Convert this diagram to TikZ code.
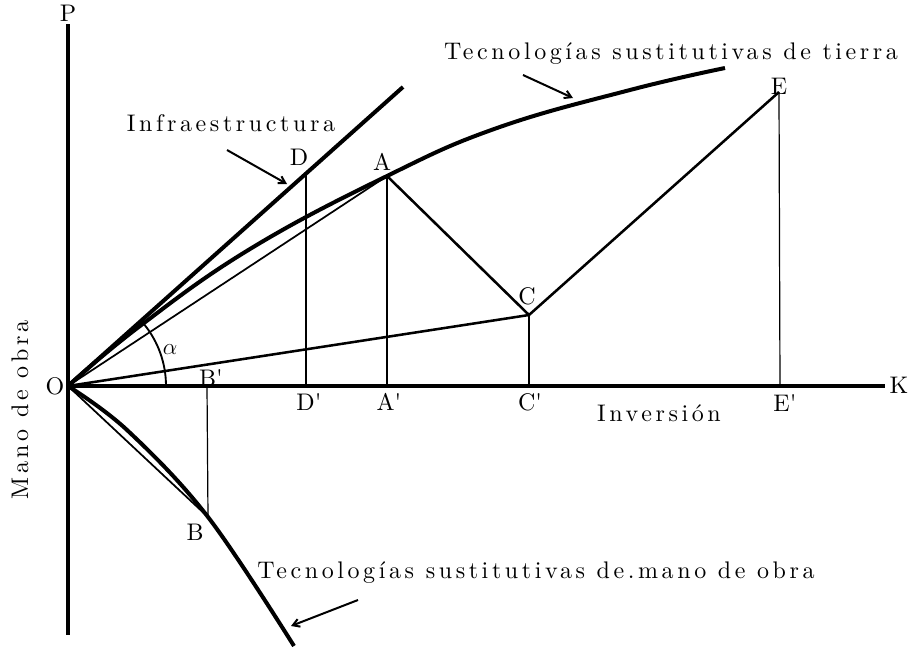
\documentclass[tikz,border=0pt]{standalone}
\usepackage{fontspec}
\usetikzlibrary{arrows.meta}
\newfontfamily\spacedlm{lmroman10-regular}[Extension=.otf, LetterSpace=15]
\newcommand{\lbltext}{\spacedlm\fontsize{18}{20}\selectfont}
\newcommand{\pr}{\textquotesingle}
\tikzset{
  axisline/.style={line width=3.4pt},
  heavycurve/.style={line width=3pt},
  midline/.style={line width=1.9pt},
  thinline/.style={line width=0.9pt},
  chord/.style={line width=1.3pt},
  pointer/.style={line width=1.5pt,-{Straight Barb[length=5pt,width=6pt]}},
  lbl/.style={font=\lbltext, inner sep=0pt, anchor=center},
}
\begin{document}
\begin{tikzpicture}[x=0.75pt,y=-0.75pt]
\useasboundingbox (0,0) rectangle (915,650);
% key points
\coordinate (O) at (68,386);
\coordinate (Ptop) at (68,24);
\coordinate (Pbot) at (68,635);
\coordinate (Kend) at (885,386);
\coordinate (A) at (387,176);
\coordinate (A') at (387,386);
\coordinate (D) at (306,173);
\coordinate (D') at (306,386);
\coordinate (C) at (529,315);
\coordinate (C') at (529,386);
\coordinate (E) at (779,92);
\coordinate (E') at (780,386);
\coordinate (B) at (208,517);
\coordinate (B') at (207,386);
\coordinate (Iend) at (403,87);
% axes
\draw[axisline] (Ptop) -- (Pbot);
\draw[axisline] (O) -- (Kend);
% infrastructure line
\draw[heavycurve] (O) -- (Iend);
% upper technology curve
\draw[heavycurve] plot[smooth, tension=0.7] coordinates {(68,386) (140,326) (250,249) (387,176) (497,128) (630,90) (725,68)};
% lower technology curve
\draw[heavycurve] plot[smooth, tension=0.6] coordinates {(68,386) (127,430) (208,517) (294,646)};
% chords
\draw[chord] (O) -- (A);
\draw[chord] (O) -- (B);
\draw[midline] (O) -- (C);
\draw[midline] (A) -- (C) -- (E);
% verticals
\draw[thinline] (D) -- (D');
\draw[thinline] (A) -- (A');
\draw[thinline] (C) -- (C');
\draw[thinline] (E) -- (E');
\draw[thinline] (B') -- (B);
% angle arc
\draw[line width=1.4pt] (O) ++(98,0) arc[start angle=0, end angle=-39, radius=98];
% labels
\node[lbl] (Plbl) at (68,13) {P};
\node[lbl] (Olbl) at (55,386) {O};
\node[lbl] (Klbl) at (899,385) {K};
\node[lbl] (Dlbl) at (299,157) {D};
\node[lbl] (Albl) at (382,162) {A};
\node[lbl] (Clbl) at (527,296) {C};
\node[lbl] (Elbl) at (779,86) {E};
\node[lbl] (Blbl) at (195,532) {B};
\node[lbl] (Bplbl) at (211,378) {B\pr};
\node[lbl] (Dplbl) at (309,402) {D\pr};
\node[lbl] (Aplbl) at (389,402) {A\pr};
\node[lbl] (Cplbl) at (530,402) {C\pr};
\node[lbl] (Eplbl) at (785,403) {E\pr};
\node[lbl] (alpha) at (170,350) {$\alpha$};
\node[lbl] (Inv) at (659,413) {Inversión};
\node[lbl, rotate=90] (Mano) at (20,410) {Mano de obra};
\node[lbl] (Infra) at (231,123) {Infraestructura};
\node[lbl] (Ttierra) at (671,54) {Tecnologías sustitutivas de tierra};
\node[lbl] (Tmano) at (536,573) {Tecnologías sustitutivas de.mano de obra};
% pointer arrows
\coordinate (i1) at (227,150);
\coordinate (i2) at (287,184);
\coordinate (t1) at (523,75);
\coordinate (t2) at (573,98);
\coordinate (m1) at (358,600);
\coordinate (m2) at (291,626);
\draw[pointer] (i1) -- (i2);
\draw[pointer] (t1) -- (t2);
\draw[pointer] (m1) -- (m2);
\end{tikzpicture}
\end{document}
